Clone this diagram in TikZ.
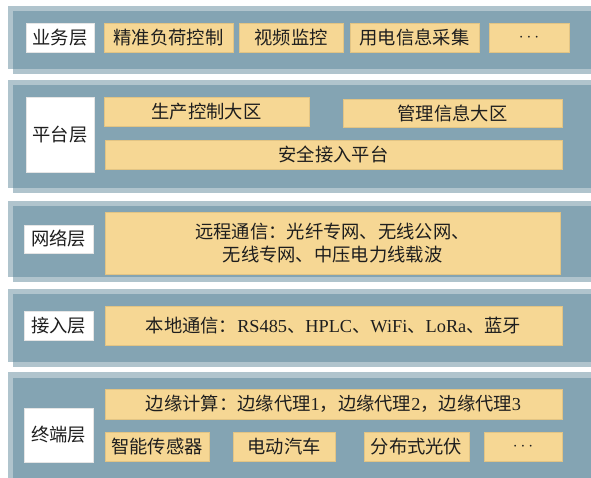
\documentclass[tikz,border=0pt]{standalone}
\usepackage{fontspec}
\setmainfont{Liberation Serif}
\newfontfamily\cjk{Noto Sans CJK SC}
\newcommand{\lat}[1]{{\rmfamily #1}}
\definecolor{paneldark}{RGB}{132,164,179}
\definecolor{panellight}{RGB}{176,196,205}
\definecolor{itemfill}{RGB}{246,215,148}
\definecolor{itemline}{RGB}{226,196,132}
\definecolor{txt}{RGB}{30,30,30}
\tikzset{
  basebox/.style={rectangle, inner sep=0pt, text=txt, font=\cjk\fontsize{18.3}{23}\selectfont, align=center},
  ybox/.style={basebox, fill=itemfill, draw=itemline, line width=0.8pt},
  wbox/.style={basebox, fill=white, draw=white!90!black, line width=0.4pt},
}
\newcommand{\layerpanel}[2]{%
  \fill[panellight] (8,#1) rectangle (591,#2);
  \fill[panellight] (13,#1+5) rectangle (591,#2+5);
  \fill[paneldark] (13,#1+5) rectangle (591,#2);
}
\begin{document}
\begin{tikzpicture}[x=1pt,y=-1pt]
\useasboundingbox (0,0) rectangle (591,478);
\fill[white] (0,0) rectangle (591,478);
% panels
\layerpanel{6}{69}
\layerpanel{80}{188}
\layerpanel{201}{277}
\layerpanel{289}{362}
\fill[panellight] (8,372) rectangle (591,478);
\fill[paneldark] (13,378) rectangle (591,478);

% layer 1
\node[wbox, minimum width=68pt, minimum height=29pt] (l1) at (60,37.5) {业务层};
\node[ybox, minimum width=129pt, minimum height=29pt] (l1a) at (168.5,37.5) {精准负荷控制};
\node[ybox, minimum width=104pt, minimum height=29pt] (l1b) at (291,37.5) {视频监控};
\node[ybox, minimum width=129pt, minimum height=29pt] (l1c) at (414.5,37.5) {用电信息采集};
\node[ybox, minimum width=80pt, minimum height=29pt] (l1d) at (529,37.5) {\lat{$\cdots$}};

% layer 2
\node[wbox, minimum width=68pt, minimum height=75pt] (l2) at (60,134.5) {平台层};
\node[ybox, minimum width=205pt, minimum height=29pt] (l2a) at (206.5,111.5) {生产控制大区};
\node[ybox, minimum width=219pt, minimum height=28pt] (l2b) at (452.5,113) {管理信息大区};
\node[ybox, minimum width=457pt, minimum height=29pt] (l2c) at (333.5,154.5) {安全接入平台};

% layer 3
\node[wbox, minimum width=69pt, minimum height=28pt] (l3) at (58.5,239) {网络层};
\node[ybox, minimum width=455pt, minimum height=62pt] (l3a) at (332.5,243) {远程通信：光纤专网、无线公网、\\无线专网、中压电力线载波};

% layer 4
\node[wbox, minimum width=69pt, minimum height=29pt] (l4) at (58.5,325.5) {接入层};
\node[ybox, minimum width=457pt, minimum height=39pt] (l4a) at (333.5,325.5) {本地通信：\lat{RS485}、\lat{HPLC}、\lat{WiFi}、\lat{LoRa}、蓝牙};

% layer 5
\node[wbox, minimum width=69pt, minimum height=54pt] (l5) at (58.5,435) {终端层};
\node[ybox, minimum width=457pt, minimum height=30pt] (l5a) at (333.5,404) {边缘计算：边缘代理\lat{1}，边缘代理\lat{2}，边缘代理\lat{3}};
\node[ybox, minimum width=104pt, minimum height=29pt] (l5b) at (157,446.5) {智能传感器};
\node[ybox, minimum width=102pt, minimum height=29pt] (l5c) at (284,446.5) {电动汽车};
\node[ybox, minimum width=105pt, minimum height=29pt] (l5d) at (416.5,446.5) {分布式光伏};
\node[ybox, minimum width=78pt, minimum height=29pt] (l5e) at (523,446.5) {\lat{$\cdots$}};
\end{tikzpicture}
\end{document}
